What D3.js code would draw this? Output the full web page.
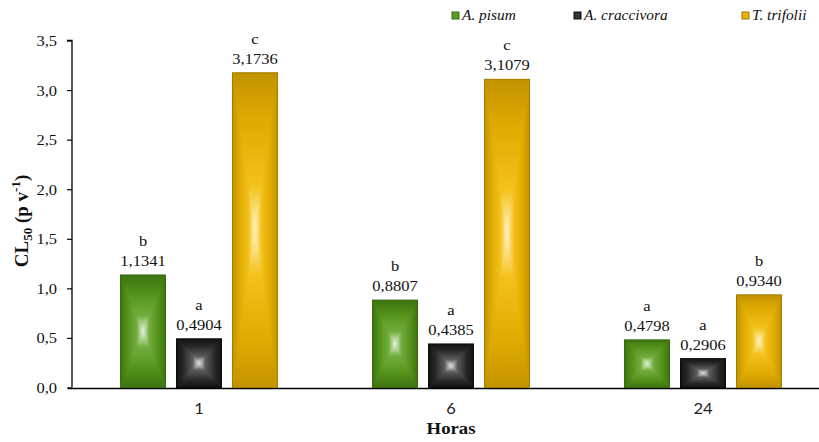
<!DOCTYPE html>
<html>
<head>
<meta charset="utf-8">
<script src="https://cdn.jsdelivr.net/npm/d3@7/dist/d3.min.js"></script>
<style>
  html, body { margin: 0; padding: 0; background: #fff; }
  svg { display: block; }
  .serif { font-family: "Liberation Serif", "DejaVu Serif", serif; }
  .sans { font-family: Lato, "Liberation Sans", sans-serif; }
</style>
</head>
<body>
<svg id="chart" width="819" height="442"></svg>
<script>
// Exposure times (hours) and aphid species
const horas = ["1", "6", "24"];
const especies = ["A. pisum", "A. craccivora", "T. trifolii"];

// LC50 values per species, one entry per time
const apisum = [1.1341, 0.8807, 0.4798];
const acraccivora = [0.4904, 0.4385, 0.2906];
const ttrifolii = [3.1736, 3.1079, 0.9340];

// Significance letters per species, one entry per time
const letrasApisum = ["b", "b", "a"];
const letrasAcraccivora = ["a", "a", "a"];
const letrasTtrifolii = ["c", "c", "b"];

const yTicks = [0, 0.5, 1.0, 1.5, 2.0, 2.5, 3.0, 3.5];

const valores = [apisum, acraccivora, ttrifolii];
const letras = [letrasApisum, letrasAcraccivora, letrasTtrifolii];

// Gradient palettes: edge -> center for each species
const paletas = [
  { id: "g0", stops: ["#3d730f", "#52901a", "#72ad3c", "#e9f6e2"], border: "#3a6a10", solid: "#5c9a26" },
  { id: "g1", stops: ["#121212", "#282828", "#5c5c5c", "#ececec"], border: "#0d0d0d", solid: "#333333" },
  { id: "g2", stops: ["#c29300", "#e0aa00", "#f3c21c", "#fff6c8"], border: "#a07c00", solid: "#e6b400" }
];

const STRETCH = 1.1; // text is drawn slightly wide
const svg = d3.select("#chart");
const margin = { left: 73, top: 40.5, bottom: 387.5, right: 829 };

const x0 = d3.scaleBand().domain(horas).range([margin.left, margin.right]).paddingInner(0).paddingOuter(0);
const x1 = d3.scaleBand().domain(d3.range(especies.length)).range([-78.5, 78.5]).paddingInner(11 / 56).paddingOuter(0);
const y = d3.scaleLinear().domain([0, 3.5]).range([margin.bottom, margin.top]);

const locale = d3.formatLocale({ decimal: ",", thousands: ".", grouping: [3], currency: ["", ""] });
const fmtTick = locale.format(".1f");
const fmtVal = locale.format(".4f");

// Places a wide text at (x, y)
function texto(parent, x, yy, str, cls, size, anchor) {
  return parent.append("text")
    .attr("class", cls)
    .attr("transform", `translate(${x},${yy}) scale(${STRETCH},1)`)
    .attr("text-anchor", anchor || "middle")
    .attr("font-size", size)
    .attr("fill", "#111")
    .text(str);
}

// Gradient definitions: one linear gradient per bar side
const defs = svg.append("defs");
const lados = {
  top: { x1: 0, y1: 0, x2: 0, y2: 1 },
  bottom: { x1: 0, y1: 1, x2: 0, y2: 0 },
  left: { x1: 0, y1: 0, x2: 1, y2: 0 },
  right: { x1: 1, y1: 0, x2: 0, y2: 0 }
};
const offs = [0, 0.3, 0.72, 1];
paletas.forEach(p => {
  Object.entries(lados).forEach(([lado, v]) => {
    const g = defs.append("linearGradient")
      .attr("id", p.id + lado)
      .attr("x1", v.x1).attr("y1", v.y1).attr("x2", v.x2).attr("y2", v.y2);
    p.stops.forEach((c, i) => g.append("stop").attr("offset", offs[i]).attr("stop-color", c));
  });
});

// Y axis
const yAxis = d3.axisLeft(y).tickValues(yTicks).tickFormat(fmtTick).tickSize(5).tickPadding(10);
const gy = svg.append("g").attr("transform", `translate(${margin.left - 1},0)`).call(yAxis);
gy.attr("font-family", null).attr("font-size", null);
gy.select(".domain").attr("d", `M-5,${margin.top}H0V${margin.bottom}`).attr("stroke", "#000").attr("stroke-width", 1.3);
gy.selectAll(".tick line").attr("stroke", "#000").attr("stroke-width", 1.2);
gy.selectAll(".tick text").remove();
gy.selectAll(".tick").each(function (d) {
  texto(d3.select(this), -15, 5, fmtTick(d), "serif", 15, "end");
});

// X axis
const xAxis = d3.axisBottom(x0).tickSize(0).tickPadding(18);
const gx = svg.append("g").attr("transform", `translate(0,${margin.bottom + 1})`).call(xAxis);
gx.attr("font-family", null).attr("font-size", null);
gx.select(".domain").attr("d", `M${margin.left - 5},0H819`).attr("stroke", "#000").attr("stroke-width", 1.3);
gx.selectAll(".tick text").remove();
gx.selectAll(".tick").each(function (d) {
  texto(d3.select(this), 0, 25, d, "sans", 15).attr("fill", "#222");
});

// Bars
const dados = [];
horas.forEach((h, hi) => {
  especies.forEach((e, si) => {
    dados.push({ h, si, v: valores[si][hi], l: letras[si][hi] });
  });
});

const barras = svg.append("g").selectAll("g").data(dados).join("g");
barras.each(function (d) {
  const g = d3.select(this);
  const p = paletas[d.si];
  const bx = x0(d.h) + x0.bandwidth() / 2 + x1(d.si);
  const bw = x1.bandwidth();
  const by = y(d.v);
  const bh = y(0) - by;
  const cx = bx + bw / 2, cy = by + bh / 2;
  g.append("rect").attr("x", bx).attr("y", by).attr("width", bw).attr("height", bh).attr("fill", p.stops[1]);
  const tri = {
    top: [[bx, by], [bx + bw, by], [cx, cy]],
    bottom: [[bx, by + bh], [bx + bw, by + bh], [cx, cy]],
    left: [[bx, by], [bx, by + bh], [cx, cy]],
    right: [[bx + bw, by], [bx + bw, by + bh], [cx, cy]]
  };
  Object.entries(tri).forEach(([lado, pts]) => {
    g.append("path")
      .attr("d", "M" + pts.map(q => q.join(",")).join("L") + "Z")
      .attr("fill", `url(#${p.id}${lado})`)
      .attr("stroke", `url(#${p.id}${lado})`)
      .attr("stroke-width", 0.4);
  });
  g.append("rect").attr("x", bx).attr("y", by).attr("width", bw).attr("height", bh)
    .attr("fill", "none").attr("stroke", p.border).attr("stroke-width", 1);

  texto(g, cx, by - 9, fmtVal(d.v), "serif", 15);
  texto(g, cx, by - 29, d.l, "serif", 15);
});

// Axis titles
texto(svg, 451, 434, "Horas", "serif", 17).attr("font-weight", "bold");

const yt = svg.append("text").attr("class", "serif")
  .attr("transform", "translate(28,221) rotate(-90)").attr("text-anchor", "middle")
  .attr("font-size", 19).attr("font-weight", "bold").attr("fill", "#111");
yt.append("tspan").text("CL");
yt.append("tspan").attr("font-size", 13).attr("dy", 4).text("50");
yt.append("tspan").attr("dy", -4).text(" (p v");
yt.append("tspan").attr("font-size", 13).attr("dy", -8).text("-1");
yt.append("tspan").attr("dy", 8).text(")");

// Legend
const legX = [452, 574, 742];
const leg = svg.append("g").selectAll("g").data(especies).join("g")
  .attr("transform", (d, i) => `translate(${legX[i]},12)`);
leg.append("rect").attr("width", 7).attr("height", 7)
  .attr("fill", (d, i) => paletas[i].solid).attr("stroke", (d, i) => paletas[i].border).attr("stroke-width", 1);
leg.each(function (d) {
  texto(d3.select(this), 10, 8, d, "serif", 14, "start").attr("font-style", "italic");
});
</script>
</body>
</html>
